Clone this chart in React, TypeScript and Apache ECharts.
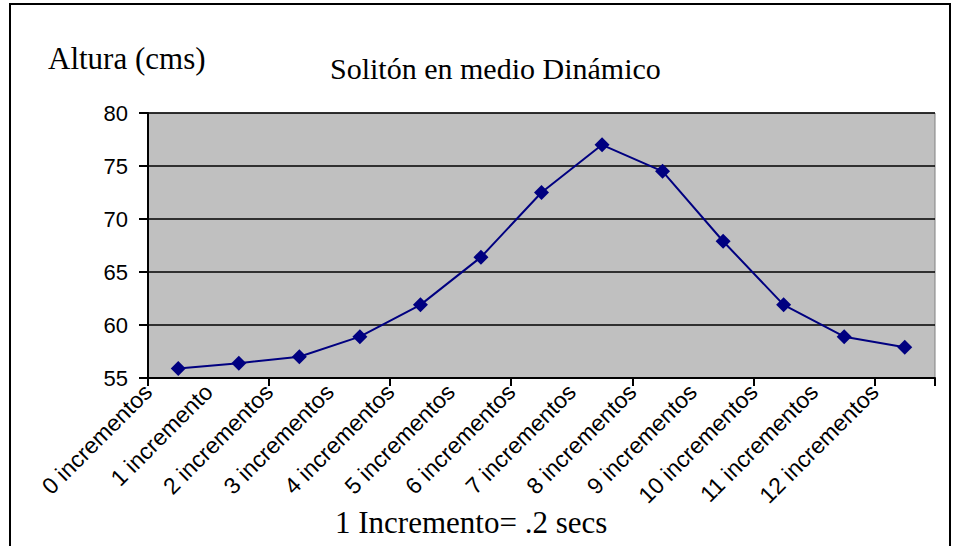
import React, { useEffect, useRef } from 'react';
import * as echarts from 'echarts';

const categories = [
  '0 incrementos',
  '1 incremento',
  '2 incrementos',
  '3 incrementos',
  '4 incrementos',
  '5 incrementos',
  '6 incrementos',
  '7 incrementos',
  '8 incrementos',
  '9 incrementos',
  '10 incrementos',
  '11 incrementos',
  '12 incrementos',
];
const heights = [55.9, 56.4, 57.0, 58.9, 61.9, 66.4, 72.5, 77.0, 74.5, 67.9, 61.9, 58.9, 57.9];
const yMin = 55;
const yMax = 80;
const yStep = 5;
const chartTitle = 'Solitón en medio Dinámico';
const yAxisTitle = 'Altura (cms)';
const footnote = '1 Incremento= .2 secs';

const serif = '"Liberation Serif", "Times New Roman", serif';
const sans = '"Liberation Sans", Arial, sans-serif';

export default function App() {
  const ref = useRef<HTMLDivElement>(null);
  useEffect(() => {
    const chart = echarts.init(ref.current!, null, { renderer: 'svg' });
    chart.setOption({
      animation: false,
      backgroundColor: '#ffffff',
      grid: {
        left: 148,
        right: 20,
        top: 113,
        bottom: 168,
        show: true,
        backgroundColor: '#c0c0c0',
        borderColor: '#808080',
        borderWidth: 1,
        containLabel: false,
        outerBoundsMode: 'none',
      },
      xAxis: [
        {
          type: 'category',
          data: categories,
          position: 'bottom',
          boundaryGap: true,
          axisLine: { show: true, lineStyle: { color: '#000', width: 2 } },
          axisTick: { show: true, inside: false, length: 8, lineStyle: { color: '#000', width: 2 } },
          axisLabel: { show: false },
          splitLine: { show: false },
        },
        {
          type: 'category',
          data: [...categories, ''],
          position: 'bottom',
          boundaryGap: false,
          axisLine: { show: false },
          axisTick: { show: false },
          axisLabel: {
            interval: 0,
            rotate: 45,
            margin: 10,
            fontFamily: sans,
            fontSize: 23,
            color: '#000',
          },
          splitLine: { show: false },
        },
      ],
      yAxis: {
        type: 'value',
        min: yMin,
        max: yMax,
        interval: yStep,
        axisLine: { show: true, lineStyle: { color: '#000', width: 2 } },
        axisTick: { show: true, inside: false, length: 9, lineStyle: { color: '#000', width: 2 } },
        axisLabel: { margin: 20, fontFamily: sans, fontSize: 22, color: '#000' },
        splitLine: { show: true, lineStyle: { color: '#000', width: 1.5 } },
      },
      series: [
        {
          type: 'line',
          xAxisIndex: 0,
          data: heights,
          symbol: 'diamond',
          symbolSize: 15,
          itemStyle: { color: '#000080' },
          lineStyle: { color: '#000080', width: 2 },
        },
      ],
      graphic: [
        {
          type: 'rect',
          silent: true,
          shape: { x: 10, y: 4, width: 940, height: 560 },
          style: { fill: 'none', stroke: '#000', lineWidth: 2 },
        },
        {
          type: 'text',
          x: 48,
          y: 58,
          style: { text: yAxisTitle, font: `31px ${serif}`, fill: '#000', textAlign: 'left', textVerticalAlign: 'middle' },
        },
        {
          type: 'text',
          x: 330,
          y: 68,
          style: { text: chartTitle, font: `30px ${serif}`, fill: '#000', textAlign: 'left', textVerticalAlign: 'middle' },
        },
        {
          type: 'text',
          x: 335,
          y: 522,
          style: { text: footnote, font: `31px ${serif}`, fill: '#000', textAlign: 'left', textVerticalAlign: 'middle' },
        },
      ],
    });
    return () => chart.dispose();
  }, []);
  return (
    <div
      ref={ref}
      style={{ position: 'absolute', left: 0, top: 0, width: 955, height: 546, background: '#fff' }}
    />
  );
}
